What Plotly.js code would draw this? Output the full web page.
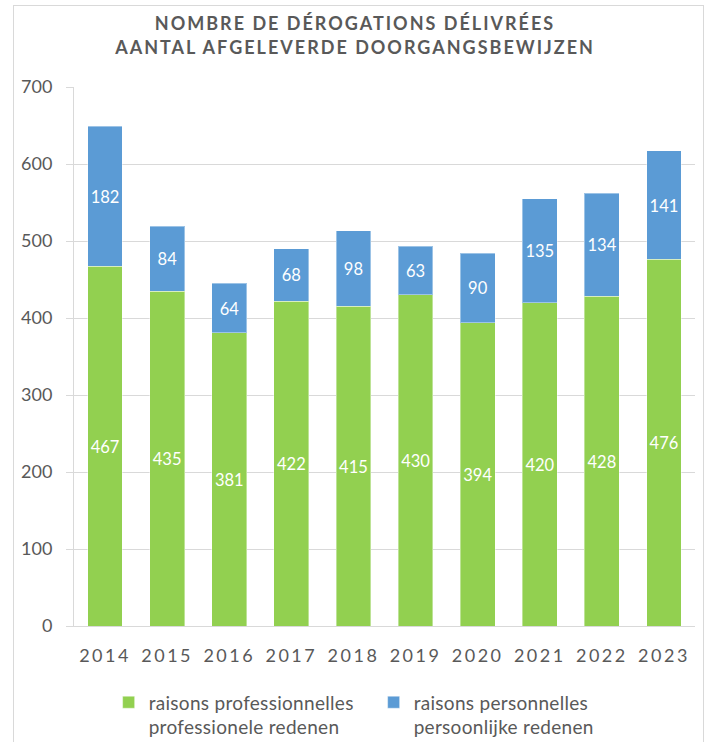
<!DOCTYPE html>
<html><head><meta charset="utf-8">
<script src="https://cdn.plot.ly/plotly-3.0.1.min.js"></script>
<style>
html,body{margin:0;padding:0;background:#fff;}
#frame{position:absolute;left:13px;top:5px;width:691px;height:740px;border:1px solid #d9d9d9;box-sizing:border-box;}
#chart{position:absolute;left:0;top:0;width:710px;height:742px;}
.gtitle{letter-spacing:2px;}
.xtick text{letter-spacing:2.5px;}
.legendtext{letter-spacing:0.3px;}
</style></head>
<body>
<div id="frame"></div>
<div id="chart"></div>
<script>
const years = ['2014','2015','2016','2017','2018','2019','2020','2021','2022','2023'];
const professionnelles = [467,435,381,422,415,430,394,420,428,476];
const personnelles = [182,84,64,68,98,63,90,135,134,141];
const yTicks = [0,100,200,300,400,500,600,700];

const font = 'Lato, "Open Sans", sans-serif';
const common = {
  type:'bar', x: years, textposition:'inside', insidetextanchor:'middle',
  textfont:{color:'#ffffff', size:19, family:font}, hoverinfo:'skip',
  textangle:0
};
const traces = [
  Object.assign({}, common, {name:'raisons professionnelles<br>professionele redenen', y: professionnelles,
    text: professionnelles.map(String), marker:{color:'#92D050', line:{color:'rgba(255,255,255,0.4)', width:1}}}),
  Object.assign({}, common, {name:'raisons personnelles<br>persoonlijke redenen', y: personnelles,
    text: personnelles.map(String), marker:{color:'#5B9BD5', line:{color:'rgba(255,255,255,0.4)', width:1}}})
];
const layout = {
  width:710, height:742, barmode:'stack', bargap:0.44,
  paper_bgcolor:'rgba(0,0,0,0)', plot_bgcolor:'rgba(0,0,0,0)',
  margin:{l:74, r:15, t:87, b:116},
  font:{family:font, color:'#595959'},
  title:{text:'<b>NOMBRE DE DÉROGATIONS DÉLIVRÉES<br>AANTAL AFGELEVERDE DOORGANGSBEWIJZEN</b>',
    font:{size:18, color:'#595959', family:font}, x:0.5, xanchor:'center', y:0.959, yanchor:'top'},
  xaxis:{type:'category', tickfont:{size:18, color:'#595959'}, showline:true, linecolor:'#d9d9d9', linewidth:1,
    ticks:'', ticklabelstandoff:13, fixedrange:true},
  yaxis:{range:[0,700], tickvals:yTicks, tickfont:{size:18, color:'#595959'}, gridcolor:'#d9d9d9', gridwidth:1,
    zeroline:false, showline:true, linecolor:'#d9d9d9', linewidth:1, ticks:'outside', ticklen:7, tickcolor:'#d9d9d9',
    ticklabelstandoff:10, fixedrange:true},
  showlegend:true,
  legend:{orientation:'h', xref:'container', yref:'container', x:0.153, xanchor:'left', y:0.079, yanchor:'top',
    font:{size:19, color:'#595959'}, traceorder:'normal', itemwidth:30, entrywidth:220, valign:'top'},
  uniformtext:{mode:'show', minsize:10}
};
Plotly.newPlot('chart', traces, layout, {displayModeBar:false, staticPlot:true});
</script>
</body></html>
